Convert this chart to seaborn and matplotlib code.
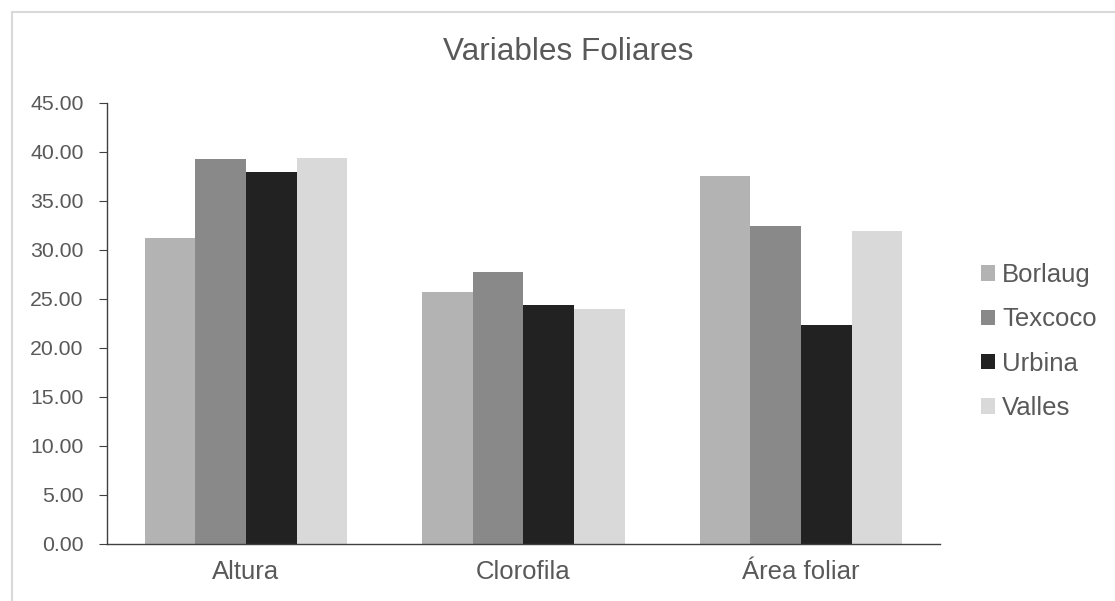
import pandas as pd
import matplotlib
matplotlib.use('Agg')
import matplotlib.pyplot as plt
import seaborn as sns
from matplotlib.patches import Rectangle

# datos
variables = ['Altura', 'Clorofila', 'Área foliar']
variedades = ['Borlaug', 'Texcoco', 'Urbina', 'Valles']
borlaug = [31.23, 25.71, 37.54]
texcoco = [39.27, 27.73, 32.43]
urbina = [37.91, 24.35, 22.28]
valles = [39.38, 23.94, 31.92]
colores = ['#B3B3B3', '#898989', '#222222', '#D9D9D9']

filas = []
for nombre, valores in zip(variedades, [borlaug, texcoco, urbina, valles]):
    for var, v in zip(variables, valores):
        filas.append({'Variable': var, 'Variedad': nombre, 'Valor': v})
df = pd.DataFrame(filas)

sns.set_style('white')
plt.rcParams['font.family'] = ['Liberation Sans', 'DejaVu Sans']

fig = plt.figure(figsize=(11.15, 6.01), dpi=100)
ax = fig.add_axes([0.096, 0.095, 0.747, 0.734])

sns.barplot(data=df, x='Variable', y='Valor', hue='Variedad', order=variables,
            hue_order=variedades, palette=colores, width=0.73, gap=0,
            saturation=1, errorbar=None, ax=ax, edgecolor='none')

ax.set_ylim(0, 45)
ax.set_yticks(range(0, 46, 5))
ax.set_yticklabels([f'{t:.2f}' for t in range(0, 46, 5)])
ax.set_xlim(-0.5, 2.5)
ax.set_xlabel('')
ax.set_ylabel('')

# título centrado en el área del gráfico
fig.text(0.510, 0.913, 'Variables Foliares', fontsize=22.7, color='#595959',
         ha='center', va='center')

for lado in ['top', 'right']:
    ax.spines[lado].set_visible(False)
for lado in ['left', 'bottom']:
    ax.spines[lado].set_color('#404040')
    ax.spines[lado].set_linewidth(1.0)
ax.tick_params(axis='y', which='both', left=True, length=5.8, color='#404040',
               labelsize=15.3, labelcolor='#595959', pad=11)
ax.tick_params(axis='x', bottom=False, length=0, labelsize=18.5,
               labelcolor='#595959', pad=11.5)

ax.legend_.remove()
handles, labels = ax.get_legend_handles_labels()
fig.legend(handles, labels, loc='center left',
           bbox_to_anchor=(981 / 1115, 1 - 341.5 / 601), frameon=False,
           fontsize=18.5, labelcolor='#595959', handlelength=0.55,
           handleheight=0.55, handletextpad=0.27, labelspacing=0.79,
           borderpad=0, borderaxespad=0)

# borde del gráfico (solo arriba e izquierda quedan dentro de la imagen)
fig.patches.append(Rectangle((12 / 1115, -0.1), 1.2, 1.1 - 12 / 601,
                             transform=fig.transFigure, fill=False,
                             edgecolor='#D9D9D9', linewidth=1.5))

fig.savefig('out.png', dpi=100)
